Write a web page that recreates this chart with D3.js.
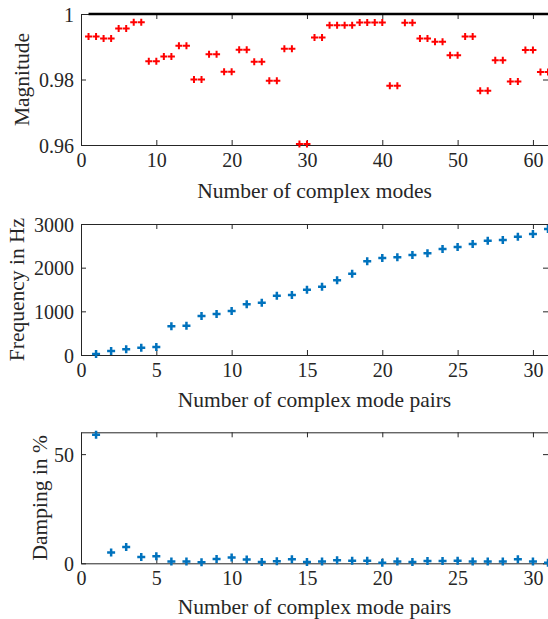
<!DOCTYPE html>
<html>
<head>
<meta charset="utf-8">
<script src="https://cdn.jsdelivr.net/npm/d3@7"></script>
<style>
  body { margin: 0; background: #fff; }
  svg { display: block; font-family: "Liberation Serif", "Times New Roman", serif; }
</style>
</head>
<body>
<div id="chart"></div>
<script>
// magnitude of every complex mode (conjugate pairs share one value)
let magnitude = [
  0.9931, 0.9931, 0.9925, 0.9925, 0.9956, 0.9956, 0.9975, 0.9975,
  0.9856, 0.9856, 0.9870, 0.9870, 0.9903, 0.9903, 0.9800, 0.9800,
  0.9877, 0.9877, 0.9824, 0.9824, 0.9891, 0.9891, 0.9854, 0.9854,
  0.9796, 0.9796, 0.9894, 0.9894, 0.9603, 0.9603, 0.9928, 0.9928,
  0.9966, 0.9966, 0.9966, 0.9966, 0.9974, 0.9974, 0.9974, 0.9974,
  0.9781, 0.9781, 0.9973, 0.9973, 0.9925, 0.9925, 0.9915, 0.9915,
  0.9874, 0.9874, 0.9931, 0.9931, 0.9766, 0.9766, 0.9859, 0.9859,
  0.9794, 0.9794, 0.9890, 0.9890, 0.9823, 0.9823
];
// one value per complex mode pair
let frequency = [
  23, 92, 130, 168, 183, 656, 672, 893, 939, 1008,
  1160, 1198, 1359, 1374, 1496, 1565, 1710, 1863, 2145, 2221,
  2237, 2290, 2328, 2427, 2473, 2542, 2618, 2634, 2710, 2771, 2885
];
let damping = [
  58.9, 5.0, 7.5, 2.9, 3.2, 0.8, 0.8, 0.5, 2.0, 2.6,
  1.7, 0.6, 0.9, 1.8, 0.6, 0.8, 1.4, 1.2, 1.2, 0.3,
  0.8, 0.6, 1.1, 1.1, 1.2, 0.8, 0.8, 0.8, 1.8, 0.8, 0.3
];
let unitCircle = [1, 1]; // |z| = 1 reference line, from mode 1 to mode 62

let magTicksX = [0, 10, 20, 30, 40, 50, 60];
let magTicksY = [0.96, 0.98, 1];
let pairTicksX = [0, 5, 10, 15, 20, 25, 30];
let freqTicksY = [0, 1000, 2000, 3000];
let dampTicksY = [0, 50];

let axisColor = '#262626';
let blue = '#0072bd';

let svg = d3.select('#chart').append('svg')
  .attr('width', 548).attr('height', 619);

let drawPanel = function(opt) {
  let x = d3.scaleLinear().domain(opt.xDomain).range([81, 548]);
  let y = d3.scaleLinear().domain(opt.yDomain).range([opt.bottom, opt.top]);
  let g = svg.append('g');

  // box with inward ticks on all four sides
  let tick = 5;
  let axes = [
    [d3.axisBottom(x).tickValues(opt.xTicks).tickSize(tick), 0, opt.bottom, true],
    [d3.axisBottom(x).tickValues(opt.xTicks).tickSize(tick), 0, opt.top, false],
    [d3.axisLeft(y).tickValues(opt.yTicks).tickSize(tick), 81, 0, true],
    [d3.axisLeft(y).tickValues(opt.yTicks).tickSize(tick), 548, 0, false]
  ];
  axes.forEach(function(a, i) {
    let ax = g.append('g')
      .attr('transform', 'translate(' + a[1] + ',' + a[2] + ')')
      .call(a[0].tickSizeOuter(0).tickFormat(opt.format || d3.format('d')));
    ax.attr('font-family', null);
    ax.select('.domain').attr('stroke', axisColor).attr('stroke-width', 1);
    // flip ticks so they point into the plot
    ax.selectAll('.tick line').attr('stroke', axisColor)
      .attr(i < 2 ? 'y2' : 'x2', function() {
        if (i === 0) return -tick;
        if (i === 1) return tick;
        if (i === 2) return tick;
        return -tick;
      });
    if (!a[3]) ax.selectAll('.tick text').remove();
    ax.selectAll('.tick text')
      .attr('fill', axisColor)
      .style('font-size', '20px')
      .style('font-family', '"Liberation Serif", serif');
    if (i === 0) ax.selectAll('.tick text').attr('y', 8);
    if (i === 2) ax.selectAll('.tick text').attr('x', -7).attr('dy', '0.36em');
    if (opt.yFormat && i === 2) ax.selectAll('.tick text').text(opt.yFormat);
  });

  // labels
  g.append('text')
    .attr('x', (81 + 548) / 2).attr('y', opt.xLabelY)
    .attr('text-anchor', 'middle')
    .attr('fill', axisColor).style('font-size', '21.5px')
    .text(opt.xLabel);
  g.append('text')
    .attr('transform', 'translate(' + opt.yLabelX + ',' + (opt.top + opt.bottom) / 2 + ')rotate(-90)')
    .attr('text-anchor', 'middle')
    .attr('fill', axisColor).style('font-size', '21.5px')
    .text(opt.yLabel);

  return {g: g, x: x, y: y};
};

let plus = function(g, data, x, y, color, half, width) {
  let pts = g.append('g');
  pts.selectAll('path')
    .data(data)
    .enter()
    .append('path')
      .attr('d', function(d, i) {
        let cx = x(i + 1), cy = y(d);
        return 'M' + (cx - half) + ',' + cy + 'H' + (cx + half) +
               'M' + cx + ',' + (cy - half) + 'V' + (cy + half);
      })
      .attr('stroke', color)
      .attr('stroke-width', width)
      .attr('fill', 'none');
};

// Magnitude panel
let p1 = drawPanel({
  xDomain: [0, 62], yDomain: [0.96, 1], top: 14, bottom: 145,
  xTicks: magTicksX, yTicks: magTicksY,
  yFormat: function(d) { return d === 1 ? '1' : d3.format('.2f')(d); },
  xLabel: 'Number of complex modes', xLabelY: 198,
  yLabel: 'Magnitude', yLabelX: 29
});
p1.g.append('line')
  .attr('x1', p1.x(1)).attr('x2', p1.x(62))
  .attr('y1', p1.y(unitCircle[0])).attr('y2', p1.y(unitCircle[1]))
  .attr('stroke', '#000').attr('stroke-width', 2.5);
plus(p1.g, magnitude, p1.x, p1.y, '#ff0000', 3.5, 2);

// Frequency panel
let p2 = drawPanel({
  xDomain: [0, 31], yDomain: [0, 3000], top: 224, bottom: 355,
  xTicks: pairTicksX, yTicks: freqTicksY,
  xLabel: 'Number of complex mode pairs', xLabelY: 407,
  yLabel: 'Frequency in Hz', yLabelX: 24
});
plus(p2.g, frequency, p2.x, p2.y, blue, 4, 2.5);

// Damping panel
let p3 = drawPanel({
  xDomain: [0, 31], yDomain: [0, 60], top: 432.3, bottom: 563.3,
  xTicks: pairTicksX, yTicks: dampTicksY,
  xLabel: 'Number of complex mode pairs', xLabelY: 614,
  yLabel: 'Damping in %', yLabelX: 47
});
plus(p3.g, damping, p3.x, p3.y, blue, 4, 2.5);
</script>
</body>
</html>
